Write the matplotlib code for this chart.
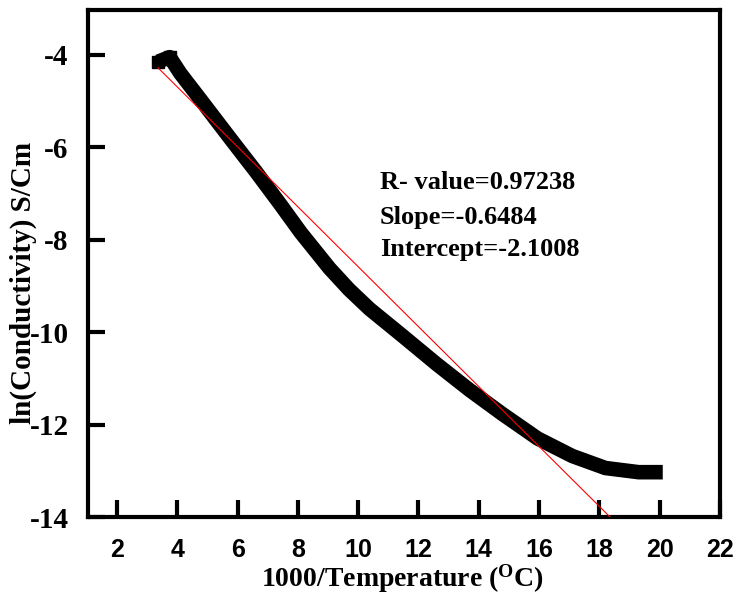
import matplotlib
matplotlib.use("Agg")
import matplotlib.pyplot as plt
import numpy as np

# ln(conductivity) vs 1000/T
inv_temp = [3.36, 3.75, 4.1, 4.75, 5.3, 5.84, 6.6, 7.4, 8.1, 9.05, 9.7, 10.38,
            11.47, 12.6, 13.69, 14.78, 15.95, 17.1, 18.2, 19.3, 20.1]
ln_cond = [-4.15, -4.05, -4.4, -4.95, -5.42, -5.88, -6.52, -7.22, -7.85, -8.62,
           -9.08, -9.5, -10.08, -10.69, -11.25, -11.77, -12.3, -12.68, -12.94,
           -13.03, -13.03]

# linear fit shown on the chart
fit_r = 0.97238
fit_slope = -0.6484
fit_intercept = -2.1008
fit_x = [3.36, 18.6]

x_ticks = [2, 4, 6, 8, 10, 12, 14, 16, 18, 20, 22]
y_ticks = [-14, -12, -10, -8, -6, -4]

SERIF = "Liberation Serif"
SANS = "Liberation Sans"

fig = plt.figure(figsize=(7.37, 5.94), dpi=100)
ax = fig.add_axes([0.1194, 0.1296, 0.8576, 0.8536])

ax.plot(inv_temp, ln_cond, color="black", linewidth=10.5, marker="s",
        markersize=9, markevery=[0, 1], solid_joinstyle="round",
        solid_capstyle="butt", zorder=2)

fx = np.array(fit_x)
ax.plot(fx, fit_slope * fx + fit_intercept, color="red", linewidth=0.8, zorder=3)

ax.set_xlim(1.04, 22.0)
ax.set_ylim(-14.0, -3.03)
ax.set_xticks(x_ticks)
ax.set_yticks(y_ticks)
ax.set_xticklabels([str(v) for v in x_ticks], fontfamily=SANS, fontweight="bold", fontsize=18)
ax.set_yticklabels([str(v) for v in y_ticks], fontfamily=SERIF, fontweight="bold", fontsize=21)

ax.tick_params(axis="x", direction="in", length=12, width=3, pad=15)
ax.tick_params(axis="y", direction="in", length=12, width=3, pad=14)
for side in ["left", "right", "top", "bottom"]:
    ax.spines[side].set_linewidth(3)

ax.set_xlabel("1000/Temperature ($\\mathregular{^{O}}$C)", fontfamily=SERIF,
              fontweight="bold", fontsize=20, va="top")
ax.xaxis.set_label_coords(0.498, -0.089)
ax.set_ylabel("ln(Conductivity) S/Cm", fontfamily=SERIF, fontweight="bold", fontsize=21)
ax.yaxis.set_label_coords(-0.08, 0.4615)

txt = dict(transform=ax.transAxes, fontfamily=SERIF, fontweight="bold",
           fontsize=19, va="center", ha="left")
ax.text(0.462, 0.659, f"R- value={fit_r}", **txt)
ax.text(0.462, 0.590, f"Slope={fit_slope}", **txt)
ax.text(0.462, 0.527, f"Intercept={fit_intercept}", **txt)

fig.savefig("out.png", dpi=100)
